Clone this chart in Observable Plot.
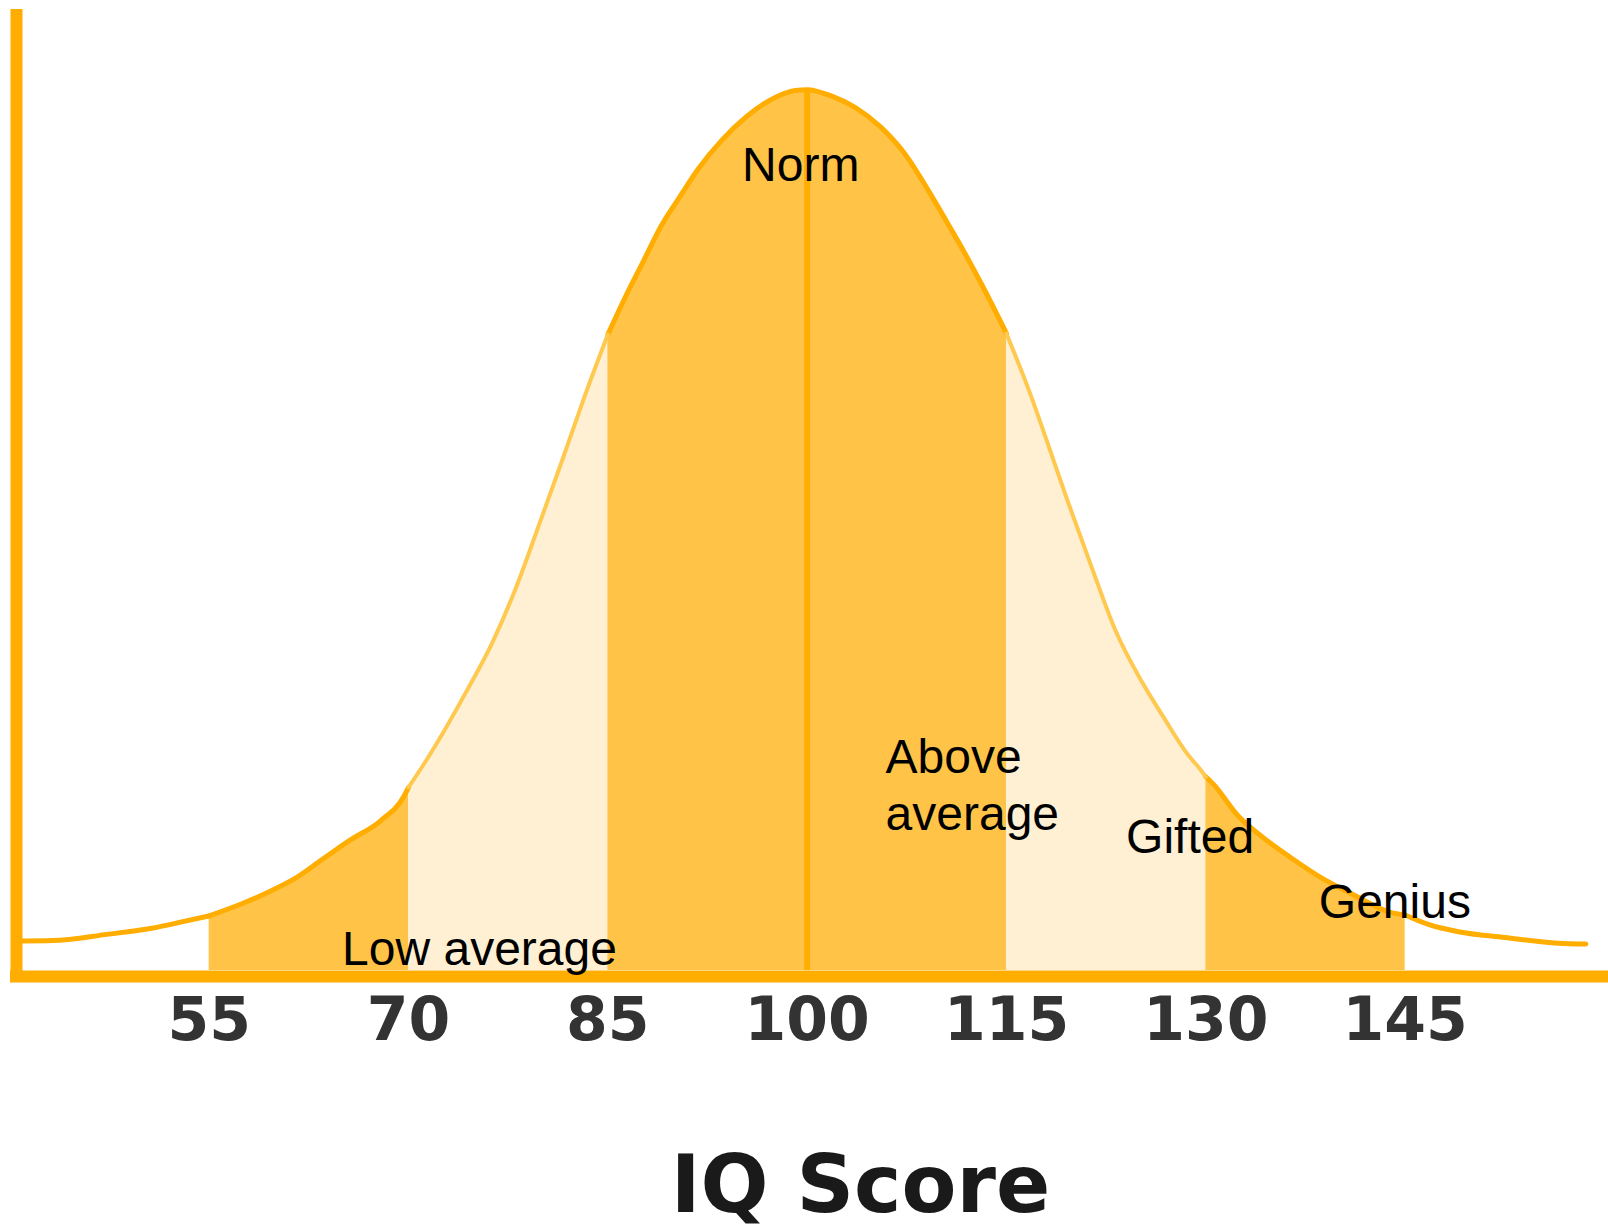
<!DOCTYPE html>
<html><head><meta charset="utf-8">
<script src="https://cdn.jsdelivr.net/npm/d3@7"></script>
<script src="https://cdn.jsdelivr.net/npm/@observablehq/plot@0.6"></script>
<style>html,body{margin:0;padding:0;background:#fff;} #chart svg{display:block}</style>
</head><body><div id="chart"></div>
<script>
// Bell curve of IQ scores (frequency in % of peak)
const iqScores = [40.9, 43.2, 47.3, 50.7, 53.2, 55, 57.5, 59.6, 61.4, 63.5, 65.6, 67.9, 69.7, 70, 71.1, 72.6, 74.4, 76.3, 78.1, 79.8, 81.7, 83.5, 85, 86.3, 87.7, 89, 90.4, 91.8, 93.6, 95.4, 97.2, 99.1, 100, 101.8, 103.6, 105.5, 107.3, 109.1, 110.5, 111.8, 113.3, 115, 116.8, 118.2, 119.6, 121.5, 123.2, 125.1, 126.8, 128.7, 129.6, 130, 130.6, 132.4, 134.3, 136.4, 138.6, 141.1, 143.9, 145, 146.8, 149, 152.5, 156.5, 158.6];
const frequency = [3.35, 3.4, 4.1, 4.8, 5.6, 6.2, 7.6, 9.0, 10.4, 12.6, 14.8, 17.0, 19.9, 20.8, 23.3, 27.0, 31.8, 37.2, 43.5, 50.5, 58.5, 66.2, 72.2, 76.4, 80.6, 84.5, 87.8, 91.0, 94.3, 96.9, 98.8, 99.9, 100, 99.3, 98.0, 95.8, 92.8, 88.6, 85.0, 81.6, 77.4, 72.3, 65.4, 59.4, 53.3, 45.4, 38.6, 33.0, 28.8, 24.4, 22.8, 22.0, 21.1, 17.6, 15.1, 12.8, 10.6, 8.6, 6.6, 6.3, 5.2, 4.4, 3.75, 3.1, 3.0];
const tickLabels = [55, 70, 85, 100, 115, 130, 145];
const bandEdges = [55, 70, 85, 115, 130, 145];
const bandTones = ["mid", "pale", "mid", "pale", "mid"];
const regionLabels = ["Low average", "Norm", "Above\naverage", "Gifted", "Genius"];
const labelIQ = [65.0, 95.1, 105.9, 124.0, 138.5];
const labelFreq = [0.6, 89.6, 15.9, 13.3, 6.0];
const axisTitle = "IQ Score";
const iqMin = 40.5, iqMax = 160;

const ORANGE = "#FFAD00", MID = "#FFC447", PALE = "#FFF0D3", LIGHTLINE = "#FFC94F";
const toneFill = {mid: MID, pale: PALE};

const curve = iqScores.map((iq, i) => ({iq, f: frequency[i]}));

const bandRows = [];
bandTones.forEach((tone, b) => {
  const lo = bandEdges[b], hi = bandEdges[b + 1];
  curve.filter(d => d.iq >= lo && d.iq <= hi).forEach(d => bandRows.push({...d, band: b, fill: toneFill[tone]}));
});

const segEdges = [iqScores[0], ...bandEdges, iqScores[iqScores.length - 1]];
const segTones = ["outer", ...bandTones, "outer"];
const darkRows = [], lightRows = [];
segTones.forEach((tone, s) => {
  const lo = segEdges[s], hi = segEdges[s + 1];
  const target = tone === "pale" ? lightRows : darkRows;
  curve.filter(d => d.iq >= lo && d.iq <= hi).forEach(d => target.push({...d, seg: s}));
});

const labels = regionLabels.map((text, i) => ({text, iq: labelIQ[i], f: labelFreq[i]}));

const chart = Plot.plot({
  width: 1608, height: 1232,
  marginTop: 9, marginBottom: 262, marginLeft: 16, marginRight: 4,
  x: {domain: [iqMin, iqMax], axis: null},
  y: {domain: [0, 109.1], axis: null},
  color: {type: "identity"},
  style: {background: "#fff", fontFamily: "'Liberation Sans', Arial, sans-serif", overflow: "visible"},
  marks: [
    Plot.area(bandRows, {x1: "iq", y1: 0, y2: "f", z: "band", fill: "fill", curve: "monotone-x"}),
    Plot.line(darkRows, {x: "iq", y: "f", z: "seg", stroke: ORANGE, strokeWidth: 5, curve: "monotone-x"}),
    Plot.line(lightRows, {x: "iq", y: "f", z: "seg", stroke: LIGHTLINE, strokeWidth: 4, curve: "monotone-x"}),
    Plot.ruleX([100], {y1: 0, y2: d3.max(frequency), stroke: ORANGE, strokeWidth: 6}),
    Plot.ruleX([iqMin], {stroke: ORANGE, strokeWidth: 12, insetBottom: -12}),
    Plot.ruleY([0], {stroke: ORANGE, strokeWidth: 12, dy: 6, insetLeft: -6, insetRight: -4}),
    Plot.axisX({ticks: tickLabels, tickSize: 0, tickPadding: 27, fontSize: 60, fontWeight: "bold",
      fontFamily: "'DejaVu Sans', sans-serif", fill: "#333", label: null}),
    Plot.text(labels, {x: "iq", y: "f", text: "text", textAnchor: "start", lineAnchor: "bottom",
      fontSize: 48, lineHeight: 1.19, fill: "#000"}),
    Plot.text([axisTitle], {frameAnchor: "bottom", dx: 50, dy: 241, lineAnchor: "bottom",
      fontSize: 80, fontWeight: "bold", fontFamily: "'DejaVu Sans', sans-serif", fill: "#1a1a1a"})
  ]
});
document.getElementById("chart").appendChild(chart);
</script>
</body></html>
